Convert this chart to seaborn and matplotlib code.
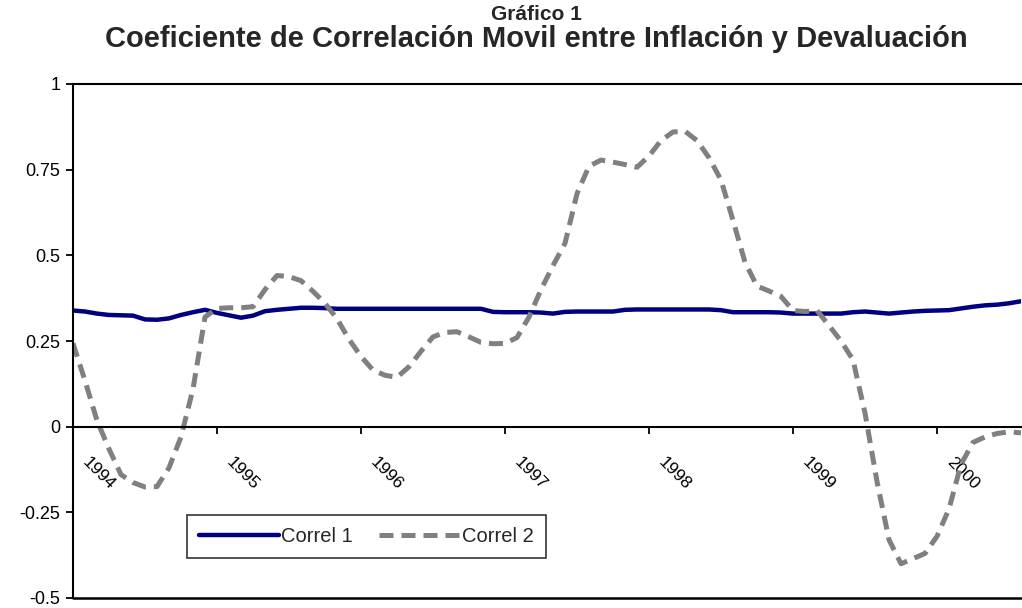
import numpy as np
import pandas as pd
import seaborn as sns
import matplotlib.pyplot as plt
from matplotlib.transforms import ScaledTranslation

# monthly rolling correlation, Jan 1994 .. Aug 2000
months = pd.date_range("1994-01-01", periods=80, freq="MS")
year_labels = ["1994", "1995", "1996", "1997", "1998", "1999", "2000"]

correl_1 = [
    0.339, 0.336, 0.330, 0.326, 0.325, 0.324, 0.313, 0.312, 0.316, 0.326,
    0.334, 0.341, 0.332, 0.325, 0.318, 0.324, 0.337, 0.341, 0.344, 0.347,
    0.347, 0.346, 0.344, 0.344, 0.344, 0.344, 0.344, 0.344, 0.344, 0.344,
    0.344, 0.344, 0.344, 0.344, 0.344, 0.335, 0.334, 0.334, 0.334, 0.333,
    0.330, 0.335, 0.336, 0.336, 0.336, 0.336, 0.341, 0.342, 0.342, 0.342,
    0.342, 0.342, 0.342, 0.342, 0.340, 0.334, 0.334, 0.334, 0.334, 0.333,
    0.330, 0.330, 0.330, 0.330, 0.330, 0.334, 0.336, 0.333, 0.330, 0.333,
    0.336, 0.338, 0.339, 0.340, 0.345, 0.350, 0.354, 0.356, 0.360, 0.366,
]
correl_2 = [
    0.243, 0.134, 0.018, -0.065, -0.140, -0.163, -0.176, -0.175, -0.120, -0.030,
    0.110, 0.320, 0.345, 0.347, 0.347, 0.350, 0.400, 0.441, 0.438, 0.426,
    0.395, 0.360, 0.315, 0.255, 0.205, 0.165, 0.150, 0.144, 0.175, 0.220,
    0.262, 0.275, 0.277, 0.262, 0.246, 0.242, 0.243, 0.260, 0.320, 0.400,
    0.470, 0.535, 0.680, 0.760, 0.778, 0.772, 0.765, 0.757, 0.790, 0.835,
    0.860, 0.862, 0.835, 0.785, 0.720, 0.602, 0.480, 0.410, 0.396, 0.380,
    0.339, 0.336, 0.339, 0.295, 0.250, 0.195, 0.040, -0.160, -0.330, -0.400,
    -0.385, -0.370, -0.320, -0.240, -0.110, -0.046, -0.030, -0.020, -0.015, -0.018,
]

df = pd.DataFrame({"mes": months, "Correl 1": correl_1, "Correl 2": correl_2})
df["pos"] = np.arange(len(df))

sns.set_style("white")
plt.rcParams["font.family"] = ["Liberation Sans", "DejaVu Sans"]

fig = plt.figure(figsize=(10.22, 6.08), dpi=100)
ax = fig.add_axes([73 / 1022, 10 / 608, 948 / 1022, 514 / 608])

sns.lineplot(data=df, x="pos", y="Correl 1", ax=ax, color="#000080",
             linewidth=3.2, label="Correl 1", solid_capstyle="round")
sns.lineplot(data=df, x="pos", y="Correl 2", ax=ax, color="#808080",
             linewidth=3.6, label="Correl 2", linestyle=(0, (2.8, 1.6)))

ax.set_xlim(0, len(df) - 1)
ax.set_ylim(-0.5, 1)
ax.set_xlabel("")
ax.set_ylabel("")

ax.tick_params(axis="both", direction="out", length=5, width=1.3,
               color="black", labelsize=13, labelcolor="black",
               left=True, bottom=True)
ax.tick_params(axis="x", pad=19, labelsize=12.5)
ax.tick_params(axis="y", pad=4)

# y axis
ax.set_yticks([-0.5, -0.25, 0, 0.25, 0.5, 0.75, 1])
ax.set_yticklabels(["-0.5", "-0.25", "0", "0.25", "0.5", "0.75", "1"])

# x axis crosses at 0, a tick every january
year_pos = df.loc[df["mes"].dt.month == 1, "pos"].values
ax.set_xticks(year_pos)
ax.set_xticklabels(year_labels)
ax.spines["bottom"].set_position(("data", 0))
ax.spines["right"].set_visible(False)
for s in ["bottom", "left", "top"]:
    ax.spines[s].set_color("black")
    ax.spines[s].set_linewidth(1.5)
ax.axhline(-0.5, color="black", lw=1.8, clip_on=False)

shift = ScaledTranslation(12 / 100, 0, fig.dpi_scale_trans)
for lab in ax.get_xticklabels():
    lab.set_rotation(-45)
    lab.set_rotation_mode("anchor")
    lab.set_horizontalalignment("left")
    lab.set_verticalalignment("center")
    lab.set_transform(lab.get_transform() + shift)

leg = ax.legend(loc="lower left", bbox_to_anchor=(0.12, 0.078), ncol=2,
                frameon=True, fancybox=False, shadow=False, fontsize=14.5,
                handlelength=4.0, handletextpad=0.1, columnspacing=1.3,
                borderaxespad=0, borderpad=0.6)
leg.get_frame().set_edgecolor("black")
leg.get_frame().set_linewidth(1.2)

fig.text(536 / 1022, 1 - 20 / 608, "Gráfico 1", ha="center", va="baseline",
         fontsize=15, fontweight="bold")
fig.text(536 / 1022, 1 - 47 / 608,
         "Coeficiente de Correlación Movil entre Inflación y Devaluación",
         ha="center", va="baseline", fontsize=21, fontweight="bold")

fig.savefig("out.png", dpi=100)
